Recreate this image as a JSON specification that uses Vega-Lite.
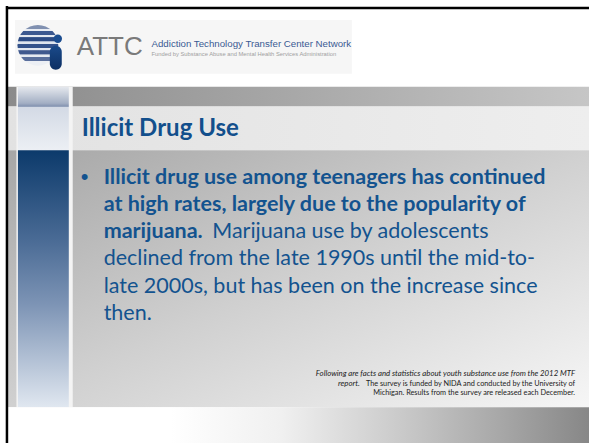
{
  "$schema": "https://vega.github.io/schema/vega-lite/v6.json",
  "width": 591,
  "height": 445,
  "autosize": {"type": "fit", "contains": "padding"},
  "padding": 0,
  "background": "#ffffff",
  "config": {"view": {"stroke": null}},
  "datasets": {
    "shapes": [
      {"part": "logobox", "x0": 18.3, "x1": 430.1, "y0": 24.3, "y1": 89.8},
      {"part": "header", "x0": 9.7, "x1": 720, "y0": 105.6, "y1": 129.8},
      {"part": "titleband", "x0": 9.7, "x1": 720, "y0": 129.8, "y1": 183.2},
      {"part": "panel", "x0": 9.7, "x1": 720, "y0": 183.2, "y1": 496.3},
      {"part": "gap", "x0": 20.1, "x1": 88.9, "y0": 105.6, "y1": 496.3},
      {"part": "coltop", "x0": 21.9, "x1": 84.1, "y0": 105.6, "y1": 183.2},
      {"part": "colbot", "x0": 21.9, "x1": 84.1, "y0": 183.2, "y1": 496.3},
      {"part": "bottom", "x0": 9.7, "x1": 720, "y0": 496.3, "y1": 540},
      {"part": "border", "x0": 7.3, "x1": 720, "y0": 9.7, "y1": 9.7},
      {"part": "border", "x0": 8.5, "x1": 8.5, "y0": 7.3, "y1": 540},
      {"part": "globe", "x0": 46.3, "x1": 46.3, "y0": 55.2, "y1": 55.2},
      {"part": "dot", "x0": 70.7, "x1": 70.7, "y0": 47.3, "y1": 47.3},
      {"part": "body", "x0": 60.9, "x1": 75.5, "y0": 55.8, "y1": 84.9}
    ],
    "texts": [
      {"kind": "attc", "text": "ATTC", "x0": 93.8, "y0": 66.7},
      {"kind": "network", "text": "Addiction Technology Transfer Center Network", "x0": 185.2, "y0": 57.0},
      {"kind": "funded", "text": "Funded by Substance Abuse and Mental Health Services Administration", "x0": 185.2, "y0": 68.0},
      {"kind": "title", "text": "Illicit Drug Use", "x0": 99.9, "y0": 166.2},
      {"kind": "bullet", "text": "•", "x0": 98.7, "y0": 223.9},
      {"kind": "bold", "text": "Illicit drug use among teenagers has continued", "x0": 126.7, "y0": 223.9},
      {"kind": "bold", "text": "at high rates, largely due to the popularity of", "x0": 126.7, "y0": 257.1},
      {"kind": "bold", "text": "marijuana.", "x0": 126.7, "y0": 290.4},
      {"kind": "regular", "text": "Marijuana use by adolescents", "x0": 259.5, "y0": 290.4},
      {"kind": "regular", "text": "declined from the late 1990s until the mid-to-", "x0": 126.7, "y0": 323.6},
      {"kind": "regular", "text": "late 2000s, but has been on the increase since", "x0": 126.7, "y0": 356.9},
      {"kind": "regular", "text": "then.", "x0": 126.7, "y0": 390.1},
      {"kind": "noteitalic", "text": "Following are facts and statistics about youth substance use from the 2012 MTF", "x0": 703.0, "y0": 458.3},
      {"kind": "noteitalic", "text": "report.", "x0": 439.8, "y0": 470.5},
      {"kind": "note", "text": "The survey is funded by NIDA and conducted by the University of", "x0": 703.0, "y0": 470.5},
      {"kind": "note", "text": "Michigan. Results from the survey are released each December.", "x0": 703.0, "y0": 481.8}
    ]
  },
  "layer": [
    {
      "data": {"name": "shapes"},
      "transform": [{"filter": "datum.part === 'logobox'"}],
      "mark": {"type": "rect", "fill": "#f6f6f6"},
      "encoding": {
        "x": {"field": "x0", "type": "quantitative", "scale": {"domain": [0, 720], "nice": false, "zero": false}, "axis": null},
        "x2": {"field": "x1"},
        "y": {"field": "y0", "type": "quantitative", "scale": {"domain": [0, 540], "nice": false, "zero": false, "reverse": true}, "axis": null},
        "y2": {"field": "y1"}
      }
    },
    {
      "data": {"name": "shapes"},
      "transform": [{"filter": "datum.part === 'header'"}],
      "mark": {"type": "rect", "fill": {"gradient": "linear", "x1": 0, "y1": 0, "x2": 1, "y2": 0, "stops": [{"offset": 0, "color": "#8b8b8b"}, {"offset": 1, "color": "#c6c6c6"}]}},
      "encoding": {
        "x": {"field": "x0", "type": "quantitative", "axis": null},
        "x2": {"field": "x1"},
        "y": {"field": "y0", "type": "quantitative", "axis": null},
        "y2": {"field": "y1"}
      }
    },
    {
      "data": {"name": "shapes"},
      "transform": [{"filter": "datum.part === 'titleband'"}],
      "mark": {"type": "rect", "fill": {"gradient": "linear", "x1": 0, "y1": 0, "x2": 1, "y2": 0, "stops": [{"offset": 0, "color": "#e2e2e2"}, {"offset": 1, "color": "#eeeeee"}]}},
      "encoding": {
        "x": {"field": "x0", "type": "quantitative", "axis": null},
        "x2": {"field": "x1"},
        "y": {"field": "y0", "type": "quantitative", "axis": null},
        "y2": {"field": "y1"}
      }
    },
    {
      "data": {"name": "shapes"},
      "transform": [{"filter": "datum.part === 'panel'"}],
      "mark": {"type": "rect", "fill": {"gradient": "linear", "x1": 0, "y1": 0, "x2": 1, "y2": 1, "stops": [{"offset": 0, "color": "#a6a6a6"}, {"offset": 0.5, "color": "#d0d0d0"}, {"offset": 1, "color": "#f6f6f6"}]}},
      "encoding": {
        "x": {"field": "x0", "type": "quantitative", "axis": null},
        "x2": {"field": "x1"},
        "y": {"field": "y0", "type": "quantitative", "axis": null},
        "y2": {"field": "y1"}
      }
    },
    {
      "data": {"name": "shapes"},
      "transform": [{"filter": "datum.part === 'gap'"}],
      "mark": {"type": "rect", "fill": "#f4f4f4"},
      "encoding": {
        "x": {"field": "x0", "type": "quantitative", "axis": null},
        "x2": {"field": "x1"},
        "y": {"field": "y0", "type": "quantitative", "axis": null},
        "y2": {"field": "y1"}
      }
    },
    {
      "data": {"name": "shapes"},
      "transform": [{"filter": "datum.part === 'coltop'"}],
      "mark": {"type": "rect", "fill": {"gradient": "linear", "x1": 0, "y1": 0, "x2": 0, "y2": 1, "stops": [{"offset": 0, "color": "#e6e9ee"}, {"offset": 0.26, "color": "#a3afc4"}, {"offset": 0.31, "color": "#8292b0"}, {"offset": 0.32, "color": "#d3dae5"}, {"offset": 1, "color": "#eceff4"}]}},
      "encoding": {
        "x": {"field": "x0", "type": "quantitative", "axis": null},
        "x2": {"field": "x1"},
        "y": {"field": "y0", "type": "quantitative", "axis": null},
        "y2": {"field": "y1"}
      }
    },
    {
      "data": {"name": "shapes"},
      "transform": [{"filter": "datum.part === 'colbot'"}],
      "mark": {"type": "rect", "fill": {"gradient": "linear", "x1": 0, "y1": 0, "x2": 0, "y2": 1, "stops": [{"offset": 0, "color": "#0c3a6b"}, {"offset": 0.35, "color": "#4a6b95"}, {"offset": 0.6, "color": "#7d94b5"}, {"offset": 1, "color": "#e0e7f0"}]}},
      "encoding": {
        "x": {"field": "x0", "type": "quantitative", "axis": null},
        "x2": {"field": "x1"},
        "y": {"field": "y0", "type": "quantitative", "axis": null},
        "y2": {"field": "y1"}
      }
    },
    {
      "data": {"name": "shapes"},
      "transform": [{"filter": "datum.part === 'bottom'"}],
      "mark": {"type": "rect", "fill": {"gradient": "linear", "x1": 0, "y1": 0, "x2": 1, "y2": 0, "stops": [{"offset": 0, "color": "#ffffff"}, {"offset": 0.28, "color": "#ffffff"}, {"offset": 0.47, "color": "#f0f0f0"}, {"offset": 0.67, "color": "#cbcbcb"}, {"offset": 0.84, "color": "#a9a9a9"}, {"offset": 1, "color": "#878787"}]}},
      "encoding": {
        "x": {"field": "x0", "type": "quantitative", "axis": null},
        "x2": {"field": "x1"},
        "y": {"field": "y0", "type": "quantitative", "axis": null},
        "y2": {"field": "y1"}
      }
    },
    {
      "data": {"name": "shapes"},
      "transform": [{"filter": "datum.part === 'border'"}],
      "mark": {"type": "rule", "color": "#000000", "strokeWidth": 2.5},
      "encoding": {
        "x": {"field": "x0", "type": "quantitative", "axis": null},
        "x2": {"field": "x1"},
        "y": {"field": "y0", "type": "quantitative", "axis": null},
        "y2": {"field": "y1"}
      }
    },
    {
      "data": {"name": "shapes"},
      "transform": [{"filter": "datum.part === 'globe'"}],
      "mark": {"type": "point", "shape": "circle", "filled": true, "size": 1662, "opacity": 1, "fill": {"gradient": "linear", "x1": 0, "y1": 0, "x2": 0, "y2": 1, "stops": [
        {"offset": 0, "color": "#8090b0"}, {"offset": 0.09, "color": "#8090b0"}, {"offset": 0.1, "color": "#e8ecf3"}, {"offset": 0.15, "color": "#e8ecf3"},
        {"offset": 0.16, "color": "#3b5890"}, {"offset": 0.24, "color": "#3b5890"}, {"offset": 0.25, "color": "#e3e8f0"}, {"offset": 0.3, "color": "#e3e8f0"},
        {"offset": 0.31, "color": "#2c4b85"}, {"offset": 0.4, "color": "#2c4b85"}, {"offset": 0.41, "color": "#dfe5ee"}, {"offset": 0.46, "color": "#dfe5ee"},
        {"offset": 0.47, "color": "#35538b"}, {"offset": 0.56, "color": "#35538b"}, {"offset": 0.57, "color": "#e3e8f0"}, {"offset": 0.62, "color": "#e3e8f0"},
        {"offset": 0.63, "color": "#40598e"}, {"offset": 0.72, "color": "#40598e"}, {"offset": 0.73, "color": "#e6eaf1"}, {"offset": 0.78, "color": "#e6eaf1"},
        {"offset": 0.79, "color": "#5a6f9c"}, {"offset": 0.88, "color": "#5a6f9c"}, {"offset": 0.89, "color": "#eceff4"}, {"offset": 1, "color": "#eceff4"}]}},
      "encoding": {
        "x": {"field": "x0", "type": "quantitative", "axis": null},
        "y": {"field": "y0", "type": "quantitative", "axis": null}
      }
    },
    {
      "data": {"name": "shapes"},
      "transform": [{"filter": "datum.part === 'body'"}],
      "mark": {"type": "rect", "cornerRadius": 6, "fill": {"gradient": "linear", "x1": 0, "y1": 0, "x2": 0, "y2": 1, "stops": [{"offset": 0, "color": "#1a4a8a"}, {"offset": 1, "color": "#0c2f63"}]}},
      "encoding": {
        "x": {"field": "x0", "type": "quantitative", "axis": null},
        "x2": {"field": "x1"},
        "y": {"field": "y0", "type": "quantitative", "axis": null},
        "y2": {"field": "y1"}
      }
    },
    {
      "data": {"name": "shapes"},
      "transform": [{"filter": "datum.part === 'dot'"}],
      "mark": {"type": "point", "shape": "circle", "filled": true, "size": 70, "opacity": 1, "color": "#1b4d90"},
      "encoding": {
        "x": {"field": "x0", "type": "quantitative", "axis": null},
        "y": {"field": "y0", "type": "quantitative", "axis": null}
      }
    },
    {
      "data": {"name": "texts"},
      "transform": [{"filter": "datum.kind === 'attc'"}],
      "mark": {"type": "text", "align": "left", "baseline": "alphabetic", "font": "Liberation Sans", "fontSize": 26, "color": "#7a7a7a"},
      "encoding": {
        "x": {"field": "x0", "type": "quantitative", "axis": null},
        "y": {"field": "y0", "type": "quantitative", "axis": null},
        "text": {"field": "text"}
      }
    },
    {
      "data": {"name": "texts"},
      "transform": [{"filter": "datum.kind === 'network'"}],
      "mark": {"type": "text", "align": "left", "baseline": "alphabetic", "font": "Liberation Sans", "fontSize": 9.7, "color": "#3a5a93"},
      "encoding": {
        "x": {"field": "x0", "type": "quantitative", "axis": null},
        "y": {"field": "y0", "type": "quantitative", "axis": null},
        "text": {"field": "text"}
      }
    },
    {
      "data": {"name": "texts"},
      "transform": [{"filter": "datum.kind === 'funded'"}],
      "mark": {"type": "text", "align": "left", "baseline": "alphabetic", "font": "Liberation Sans", "fontSize": 5.8, "color": "#a0a0a0"},
      "encoding": {
        "x": {"field": "x0", "type": "quantitative", "axis": null},
        "y": {"field": "y0", "type": "quantitative", "axis": null},
        "text": {"field": "text"}
      }
    },
    {
      "data": {"name": "texts"},
      "transform": [{"filter": "datum.kind === 'title'"}],
      "mark": {"type": "text", "align": "left", "baseline": "alphabetic", "font": "Lato", "fontWeight": "bold", "fontSize": 24, "color": "#124f8c"},
      "encoding": {
        "x": {"field": "x0", "type": "quantitative", "axis": null},
        "y": {"field": "y0", "type": "quantitative", "axis": null},
        "text": {"field": "text"}
      }
    },
    {
      "data": {"name": "texts"},
      "transform": [{"filter": "datum.kind === 'bullet'"}],
      "mark": {"type": "text", "align": "left", "baseline": "alphabetic", "font": "Liberation Sans", "fontSize": 22, "color": "#13538f"},
      "encoding": {
        "x": {"field": "x0", "type": "quantitative", "axis": null},
        "y": {"field": "y0", "type": "quantitative", "axis": null},
        "text": {"field": "text"}
      }
    },
    {
      "data": {"name": "texts"},
      "transform": [{"filter": "datum.kind === 'bold'"}],
      "mark": {"type": "text", "align": "left", "baseline": "alphabetic", "font": "Lato", "fontWeight": "bold", "fontSize": 21.5, "color": "#13538f"},
      "encoding": {
        "x": {"field": "x0", "type": "quantitative", "axis": null},
        "y": {"field": "y0", "type": "quantitative", "axis": null},
        "text": {"field": "text"}
      }
    },
    {
      "data": {"name": "texts"},
      "transform": [{"filter": "datum.kind === 'regular'"}],
      "mark": {"type": "text", "align": "left", "baseline": "alphabetic", "font": "Lato", "fontSize": 21.5, "color": "#13538f"},
      "encoding": {
        "x": {"field": "x0", "type": "quantitative", "axis": null},
        "y": {"field": "y0", "type": "quantitative", "axis": null},
        "text": {"field": "text"}
      }
    },
    {
      "data": {"name": "texts"},
      "transform": [{"filter": "datum.kind === 'noteitalic'"}],
      "mark": {"type": "text", "align": "right", "baseline": "alphabetic", "font": "Lato", "fontStyle": "italic", "fontSize": 7.8, "color": "#222222"},
      "encoding": {
        "x": {"field": "x0", "type": "quantitative", "axis": null},
        "y": {"field": "y0", "type": "quantitative", "axis": null},
        "text": {"field": "text"}
      }
    },
    {
      "data": {"name": "texts"},
      "transform": [{"filter": "datum.kind === 'note'"}],
      "mark": {"type": "text", "align": "right", "baseline": "alphabetic", "font": "Lato", "fontSize": 7.3, "color": "#222222"},
      "encoding": {
        "x": {"field": "x0", "type": "quantitative", "axis": null},
        "y": {"field": "y0", "type": "quantitative", "axis": null},
        "text": {"field": "text"}
      }
    }
  ]
}
